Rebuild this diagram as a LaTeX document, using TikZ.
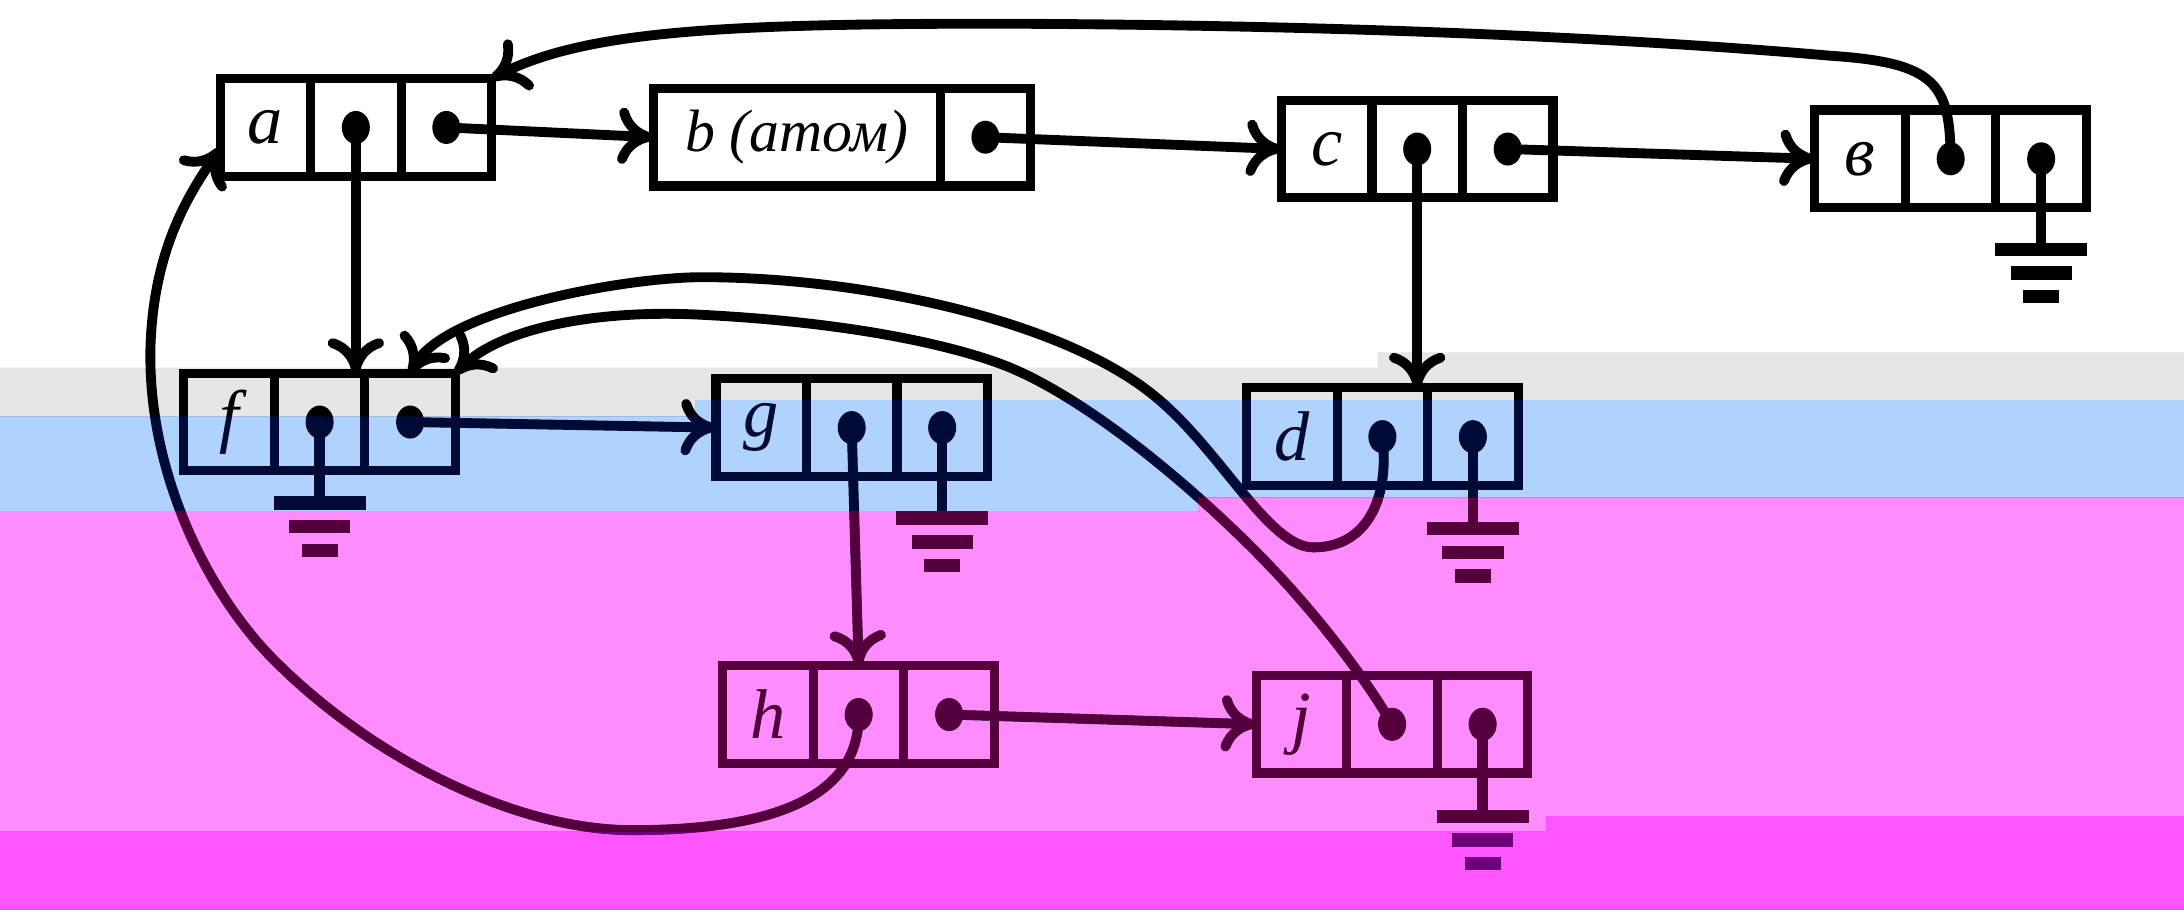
\documentclass[tikz,border=0pt]{standalone}
\usepackage{fontspec}
\setmainfont{Liberation Serif}
\usetikzlibrary{arrows.meta,positioning}
\definecolor{bandgrey}{HTML}{E6E6E6}
\definecolor{bandblue}{HTML}{AFD2FF}
\definecolor{bandpink}{HTML}{FF8CFF}
\definecolor{bandmagenta}{HTML}{FF55FF}
\definecolor{inkblue}{HTML}{000A37}
\definecolor{inkpink}{HTML}{55003C}
\definecolor{inkmagenta}{HTML}{6E0078}

\begin{document}
\begin{tikzpicture}[x=0.13929mm, y=-0.13929mm,
  cell/.style={draw, line width=2.6pt, outer sep=0pt, inner sep=0pt,
    minimum width=9.05mm, minimum height=9.75mm,
    font=\fontsize{20}{22}\selectfont\itshape},
  link/.style={line width=2.8pt, -{Computer Modern Rightarrow[length=10pt, width=16pt]}},
  stem/.style={line width=3pt},
  earth/.pic={
    \draw[line width=3.8pt] (-33,0) -- (33,0);
    \draw[line width=3.8pt] (-22,17) -- (22,17);
    \draw[line width=3.8pt] (-13,34) -- (13,34);
  }]
\useasboundingbox (0,0) rectangle (1568,653);
% colour bands of the scan
\fill[bandgrey] (0,264) -- (989,264) -- (989,253) -- (1568,253) -- (1568,287) -- (499,287) -- (499,299) -- (0,299) -- cycle;
\fill[bandblue] (0,299) -- (499,299) -- (499,287) -- (1568,287) -- (1568,357) -- (860,357) -- (860,367) -- (0,367) -- cycle;
\fill[bandpink] (0,367) -- (860,367) -- (860,357) -- (1568,357) -- (1568,586) -- (1110,586) -- (1110,597) -- (0,597) -- cycle;
\fill[bandmagenta] (0,597) -- (1110,597) -- (1110,586) -- (1568,586) -- (1568,653) -- (0,653) -- cycle;

% three-cell list elements
\foreach \n/\x/\y/\t in {a/190.5/91.5/a, c/952.5/107/c, e/1335.5/114/в,
    f/164.5/303/f, g/546.5/307/g, d/927.5/313.5/d, h/551.5/513/h, j/934.5/520/j} {
  \node[cell] (\n1) at (\x,\y) {\t};
  \node[cell, right=0pt of \n1] (\n2) {};
  \node[cell, right=0pt of \n2] (\n3) {};
}
% atom
\node[cell, minimum width=28.7mm, font=\fontsize{17}{19}\selectfont\itshape] (b1) at (572,98.5) {b (атом)};
\node[cell, right=0pt of b1] (b2) {};

% pointers
\foreach \c in {a2,a3,b2,c2,c3,e2,e3,f2,f3,g2,g3,d2,d3,h2,h3,j2,j3}
  \fill (\c.center) ellipse [x radius=1.4mm, y radius=1.65mm];

\draw[link] (a3.center) -- (b1.west);
\draw[link] (b2.center) -- (c1.west);
\draw[link] (c3.center) -- (e1.west);
\draw[link] (f3.center) -- (g1.west);
\draw[link] (h3.center) -- (j1.west);
\draw[link] (a2.center) -- (a2.center |- f2.north);
\draw[link] (c2.center) -- (c2.center |- d2.north);
\draw[link] (g2.center) -- (h2.north);

\draw[link] (e2.center) .. controls (1400,60) and (1390,45) .. (1314,40)
  .. controls (1200,30) and (1000,18) .. (718,17)
  .. controls (520,17) and (420,22) .. (a3.north east);
\draw[link] (h2.center) .. controls (617,570) and (560,596) .. (454,596)
  .. controls (370,596) and (270,545) .. (202,479)
  .. controls (150,430) and (106,340) .. (108,250)
  .. controls (110,180) and (135,140) .. ([yshift=-6pt]a1.west);
\draw[link] (d2.center) .. controls (998,360) and (980,393) .. (943,393)
  .. controls (910,393) and (875,320) .. (826,282)
  .. controls (760,230) and (620,199) .. (504,199)
  .. controls (450,199) and (320,222) .. (f3.north);
\draw[link] (j2.center) .. controls (985,495) and (960,460) .. (928,424)
  .. controls (880,370) and (790,290) .. (723,263)
  .. controls (690,250) and (620,232) .. (504,226)
  .. controls (430,222) and (360,235) .. (f3.north east);

% nil pointers
\draw[stem] (e3.center) -- ++(0,65) coordinate (e3nil);
\draw[stem] (f2.center) -- ++(0,58) coordinate (f2nil);
\draw[stem] (g3.center) -- ++(0,65) coordinate (g3nil);
\draw[stem] (d3.center) -- ++(0,66) coordinate (d3nil);
\draw[stem] (j3.center) -- ++(0,66) coordinate (j3nil);
\foreach \c in {e3nil,f2nil,g3nil,d3nil,j3nil}
  \pic at (\c) {earth};

% tint of the ink inside the bands
\begin{scope}[blend mode=lighten]
\fill[inkblue] (0,299) -- (499,299) -- (499,287) -- (1568,287) -- (1568,357) -- (860,357) -- (860,367) -- (0,367) -- cycle;
\fill[inkpink] (0,367) -- (860,367) -- (860,357) -- (1568,357) -- (1568,586) -- (1110,586) -- (1110,597) -- (0,597) -- cycle;
\fill[inkmagenta] (0,597) -- (1110,597) -- (1110,586) -- (1568,586) -- (1568,653) -- (0,653) -- cycle;
\end{scope}
\end{tikzpicture}
\end{document}
